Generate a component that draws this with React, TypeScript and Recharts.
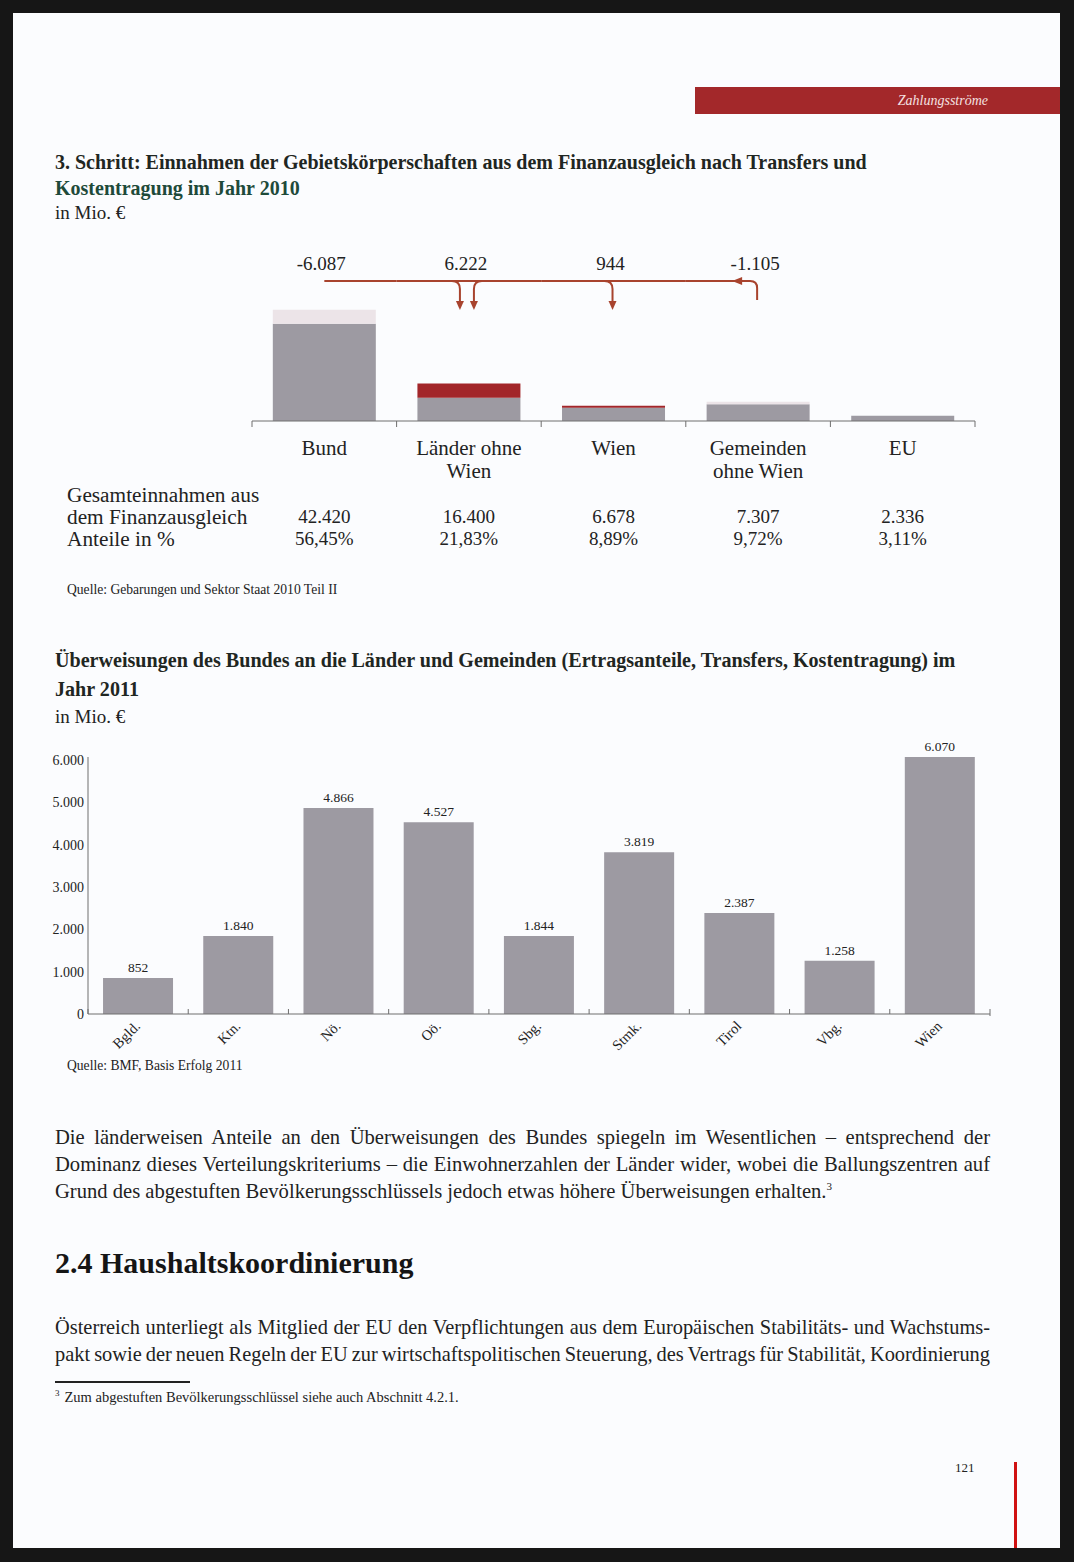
import React from 'react';
import { BarChart, Bar, XAxis, YAxis, LabelList } from 'recharts';

const FONT = '"Liberation Serif", "DejaVu Serif", serif';

// ---------- Chart 1: Einnahmen der Gebietskörperschaften 2010 ----------
const kategorien1 = ['Bund', 'Länder ohne Wien', 'Wien', 'Gemeinden ohne Wien', 'EU'];
const kategorienZeilen1 = [['Bund'], ['Länder ohne', 'Wien'], ['Wien'], ['Gemeinden', 'ohne Wien'], ['EU']];
const basis1 = [42420, 10178, 5734, 7307, 2336];
const zuwachs1 = [0, 6222, 944, 0, 0];
const abgabe1 = [6087, 0, 0, 1105, 0];
const gesamt1 = [42420, 16400, 6678, 7307, 2336];
const anteile1 = [56.45, 21.83, 8.89, 9.72, 3.11];
const pfeile1 = [0, 2, 1, 0, 0];

// ---------- Chart 2: Überweisungen des Bundes 2011 ----------
const laender2 = ['Bgld.', 'Ktn.', 'Nö.', 'Oö.', 'Sbg.', 'Stmk.', 'Tirol', 'Vbg.', 'Wien'];
const werte2 = [852, 1840, 4866, 4527, 1844, 3819, 2387, 1258, 6070];
const yTicks2 = [0, 1000, 2000, 3000, 4000, 5000, 6000];

const GAP1 = 0.144;
const GAP2 = 0.15;
const GRAU = '#9d9aa2';
const ROT = '#a2262a';
const HELL = '#ece4e8';
const PFEIL = '#a8432e';
const ACHSE = '#6e6e6e';
const TEXT = '#222';

function fmt(n: number): string {
  const s = String(Math.round(Math.abs(n))).replace(/\B(?=(\d{3})+(?!\d))/g, '.');
  return (n < 0 ? '-' : '') + s;
}
function pct(n: number): string {
  return n.toFixed(2).replace('.', ',') + '%';
}

const data1 = kategorien1.map((name, i) => ({
  name,
  basis: basis1[i],
  zuwachs: zuwachs1[i],
  abgabe: abgabe1[i],
}));
const data2 = laender2.map((name, i) => ({ name, wert: werte2[i] }));

const flussIdx = kategorien1.map((_, i) => i).filter((i) => zuwachs1[i] > 0 || abgabe1[i] > 0);
const ersterFluss = flussIdx[0];
const letzterFluss = flussIdx[flussIdx.length - 1];

function FlussLabel(props: any) {
  const vb = props.viewBox && typeof props.viewBox.width === 'number' ? props.viewBox : props;
  const x = Number(vb.x), y = Number(vb.y), w = Number(vb.width), h = Number(vb.height);
  const i = kategorien1.indexOf(props.value);
  if (i < 0 || i < ersterFluss || i > letzterFluss || !isFinite(x)) return null;
  const base = y + h;
  const cx = x + w / 2;
  const band = w / (1 - 2 * GAP1);
  const left = x - GAP1 * band;
  const right = x + w + GAP1 * band;
  const L = base - 140;
  const fluss = zuwachs1[i] - abgabe1[i];
  const parts: any[] = [];
  if (i === ersterFluss) {
    parts.push(<path key="l" d={`M${cx},${L}H${right}`} fill="none" />);
  } else if (i === letzterFluss) {
    parts.push(
      <path key="l" d={`M${left},${L}H${cx - 8}Q${cx - 1},${L} ${cx - 1},${L + 7}V${L + 19}`} fill="none" />
    );
    parts.push(
      <polygon key="h" points={`${cx - 26},${L} ${cx - 16},${L - 4} ${cx - 16},${L + 4}`} fill={PFEIL} stroke="none" />
    );
  } else {
    parts.push(<path key="l" d={`M${left},${L}H${right}`} fill="none" />);
  }
  const n = pfeile1[i];
  const offs = n === 2 ? [[-9, -1], [5, 1]] : n === 1 ? [[-1, -1]] : [];
  offs.forEach(([o, dir], k) => {
    const ax = cx + o;
    parts.push(
      <path key={'a' + k} d={`M${ax + dir * 8},${L}Q${ax},${L} ${ax},${L + 8}V${L + 21}`} fill="none" />
    );
    parts.push(
      <polygon key={'p' + k} points={`${ax - 4},${L + 20} ${ax + 4},${L + 20} ${ax},${L + 29}`} fill={PFEIL} stroke="none" />
    );
  });
  return (
    <g>
      <g stroke={PFEIL} strokeWidth={2}>{parts}</g>
      <text x={cx - 3} y={base - 151} textAnchor="middle" fontFamily={FONT} fontSize={19} fill={TEXT}>
        {fmt(fluss)}
      </text>
    </g>
  );
}

function Tick1(props: any) {
  const { x, y, payload } = props;
  const n = kategorien1.length;
  const i = kategorien1.indexOf(payload.value);
  const half =
    typeof props.width === 'number' && props.width > 0
      ? props.width / n / 2
      : Number(payload.offset) || 72;
  return (
    <g>
      <line x1={x - half} y1={y} x2={x - half} y2={y + 6} stroke={ACHSE} />
      {i === n - 1 && <line x1={x + half} y1={y} x2={x + half} y2={y + 6} stroke={ACHSE} />}
      <text textAnchor="middle" fontFamily={FONT} fontSize={21} fill={TEXT}>
        {kategorienZeilen1[i].map((z, k) => (
          <tspan key={k} x={x} y={y + 34 + k * 23}>
            {z}
          </tspan>
        ))}
      </text>
      <text x={x} y={y + 102} textAnchor="middle" fontFamily={FONT} fontSize={19} fill={TEXT}>
        {fmt(gesamt1[i])}
      </text>
      <text x={x} y={y + 124} textAnchor="middle" fontFamily={FONT} fontSize={19} fill={TEXT}>
        {pct(anteile1[i])}
      </text>
    </g>
  );
}

function Tick2(props: any) {
  const { x, y, payload } = props;
  const n = laender2.length;
  const i = laender2.indexOf(payload.value);
  const half =
    typeof props.width === 'number' && props.width > 0
      ? props.width / n / 2
      : Number(payload.offset) || 50;
  const ax = x + 3;
  const ay = y + 13;
  return (
    <g>
      <line x1={x - half} y1={y} x2={x - half} y2={y - 5} stroke={ACHSE} />
      {i === n - 1 && <line x1={x + half} y1={y + 2} x2={x + half} y2={y - 5} stroke={ACHSE} />}
      <text
        x={ax}
        y={ay}
        transform={`rotate(-45, ${ax}, ${ay})`}
        textAnchor="end"
        fontFamily={FONT}
        fontSize={14.5}
        fill={TEXT}
      >
        {payload.value}
      </text>
    </g>
  );
}

type TProps = {
  x: number;
  cy: number;
  size: number;
  lh?: number;
  bold?: boolean;
  italic?: boolean;
  color?: string;
  width?: number;
  justify?: boolean;
  ws?: number;
  children: any;
};
function T({ x, cy, size, lh, bold, italic, color, width, justify, ws, children }: TProps) {
  const h = lh ?? Math.round(size * 1.3);
  const style: any = {
    position: 'absolute',
    left: x,
    top: cy - h / 2,
    lineHeight: h + 'px',
    height: h,
    fontSize: size,
    fontFamily: FONT,
    fontWeight: bold ? 700 : 400,
    fontStyle: italic ? 'italic' : 'normal',
    color: color ?? TEXT,
  };
  if (justify) {
    style.width = width;
    style.textAlign = 'justify';
    style.textAlignLast = 'justify';
    if (ws !== undefined) style.wordSpacing = ws + 'px';
  } else {
    style.whiteSpace = 'nowrap';
    if (width) style.width = width;
  }
  return <div style={style}>{children}</div>;
}

export default function App() {
  return (
    <div
      style={{
        position: 'absolute',
        left: 0,
        top: 0,
        width: 1074,
        height: 1562,
        background: '#161616',
        overflow: 'hidden',
      }}
    >
      <div style={{ position: 'absolute', left: 13, top: 13, width: 1047, height: 1535, background: '#fbfcfe' }} />

      {/* Kopfzeile */}
      <div style={{ position: 'absolute', left: 695, top: 87, width: 365, height: 27, background: '#a3282a' }} />
      <div
        style={{
          position: 'absolute',
          left: 800,
          top: 91,
          width: 188,
          textAlign: 'right',
          lineHeight: '20px',
          fontSize: 14,
          fontStyle: 'italic',
          fontFamily: FONT,
          color: '#f4e1e1',
        }}
      >
        Zahlungsströme
      </div>

      {/* Titel 1 */}
      <T x={55} cy={162} size={20} bold color="#1f2622">
        3. Schritt: Einnahmen der Gebietskörperschaften aus dem Finanzausgleich nach Transfers und
      </T>
      <T x={55} cy={188} size={20} bold color="#1e4a3a">
        Kostentragung im Jahr 2010
      </T>
      <T x={55} cy={212} size={19}>
        in Mio. €
      </T>

      {/* Chart 1 */}
      <div style={{ position: 'absolute', left: 200, top: 245 }}>
        <BarChart
          width={830}
          height={306}
          data={data1}
          margin={{ top: 50, right: 55, bottom: 0, left: 52 }}
          barCategoryGap={`${GAP1 * 100}%`}
        >
          <XAxis
            dataKey="name"
            height={130}
            interval={0}
            tickLine={false}
            tickSize={0}
            tickMargin={0}
            axisLine={{ stroke: ACHSE, strokeWidth: 1 }}
            tick={<Tick1 />}
          />
          <YAxis hide width={0} domain={[0, 55000]} type="number" />
          <Bar dataKey="basis" stackId="a" fill={GRAU} isAnimationActive={false}>
            <LabelList dataKey="name" content={FlussLabel} />
          </Bar>
          <Bar dataKey="zuwachs" stackId="a" fill={ROT} isAnimationActive={false} />
          <Bar dataKey="abgabe" stackId="a" fill={HELL} isAnimationActive={false} />
        </BarChart>
      </div>

      <T x={67} cy={495} size={21.3}>
        Gesamteinnahmen aus
      </T>
      <T x={67} cy={517} size={21.3}>
        dem Finanzausgleich
      </T>
      <T x={67} cy={539} size={21.3}>
        Anteile in %
      </T>

      <T x={67} cy={590} size={13.6}>
        Quelle: Gebarungen und Sektor Staat 2010 Teil II
      </T>

      {/* Titel 2 */}
      <T x={55} cy={660} size={20.1} bold color="#1f2622">
        Überweisungen des Bundes an die Länder und Gemeinden (Ertragsanteile, Transfers, Kostentragung) im
      </T>
      <T x={55} cy={689} size={20.1} bold color="#1f2622">
        Jahr 2011
      </T>
      <T x={55} cy={716} size={19}>
        in Mio. €
      </T>

      {/* Chart 2 */}
      <div style={{ position: 'absolute', left: 40, top: 730 }}>
        <BarChart
          width={990}
          height={334}
          data={data2}
          margin={{ top: 27, right: 40, bottom: 0, left: 0 }}
          barCategoryGap={`${GAP2 * 100}%`}
        >
          <XAxis
            dataKey="name"
            height={50}
            interval={0}
            tickLine={false}
            tickSize={0}
            tickMargin={0}
            axisLine={{ stroke: ACHSE, strokeWidth: 1 }}
            tick={<Tick2 />}
          />
          <YAxis
            type="number"
            width={48}
            domain={[0, Math.max(...werte2)]}
            ticks={yTicks2}
            interval={0}
            tickLine={false}
            tickSize={0}
            tickMargin={4}
            axisLine={{ stroke: ACHSE, strokeWidth: 1 }}
            tickFormatter={(v: number) => fmt(v)}
            tick={{ fontSize: 14, fill: TEXT, fontFamily: FONT }}
          />
          <Bar dataKey="wert" fill={GRAU} isAnimationActive={false}>
            <LabelList
              dataKey="wert"
              position="top"
              offset={6}
              formatter={(v: any) => fmt(Number(v))}
              style={{ fontSize: 13.5, fill: TEXT, fontFamily: FONT }}
            />
          </Bar>
        </BarChart>
      </div>

      <T x={67} cy={1066} size={13.6}>
        Quelle: BMF, Basis Erfolg 2011
      </T>

      {/* Fließtext */}
      <T x={55} cy={1137} size={20.6} lh={27} justify width={935} ws={-4}>
        Die länderweisen Anteile an den Überweisungen des Bundes spiegeln im Wesentlichen – entsprechend der
      </T>
      <T x={55} cy={1164} size={20.6} lh={27} justify width={935} ws={-4}>
        Dominanz dieses Verteilungskriteriums – die Einwohnerzahlen der Länder wider, wobei die Ballungszentren auf
      </T>
      <T x={55} cy={1191} size={20.6} lh={27}>
        Grund des abgestuften Bevölkerungsschlüssels jedoch etwas höhere Überweisungen erhalten.
        <span style={{ fontSize: 11, verticalAlign: 'super', lineHeight: 0 }}>3</span>
      </T>

      <T x={55} cy={1262} size={30} bold color="#151515">
        2.4 Haushaltskoordinierung
      </T>

      <T x={55} cy={1327} size={20.4} lh={27} justify width={935} ws={-4}>
        Österreich unterliegt als Mitglied der EU den Verpflichtungen aus dem Europäischen Stabilitäts- und Wachstums-
      </T>
      <T x={55} cy={1354} size={20.4} lh={27} justify width={935} ws={-6}>
        pakt sowie der neuen Regeln der EU zur wirtschaftspolitischen Steuerung, des Vertrags für Stabilität, Koordinierung
      </T>

      {/* Fußnote */}
      <div style={{ position: 'absolute', left: 55, top: 1381, width: 135, height: 2, background: '#222' }} />
      <T x={55} cy={1397} size={14.5}>
        <span style={{ fontSize: 9, verticalAlign: 'super', lineHeight: 0 }}>3</span>
        <span style={{ marginLeft: 5 }}>Zum abgestuften Bevölkerungsschlüssel siehe auch Abschnitt 4.2.1.</span>
      </T>

      {/* Seitenzahl */}
      <T x={955} cy={1467} size={13}>
        121
      </T>
      <div style={{ position: 'absolute', left: 1014, top: 1462, width: 3, height: 86, background: '#d01212' }} />
    </div>
  );
}
